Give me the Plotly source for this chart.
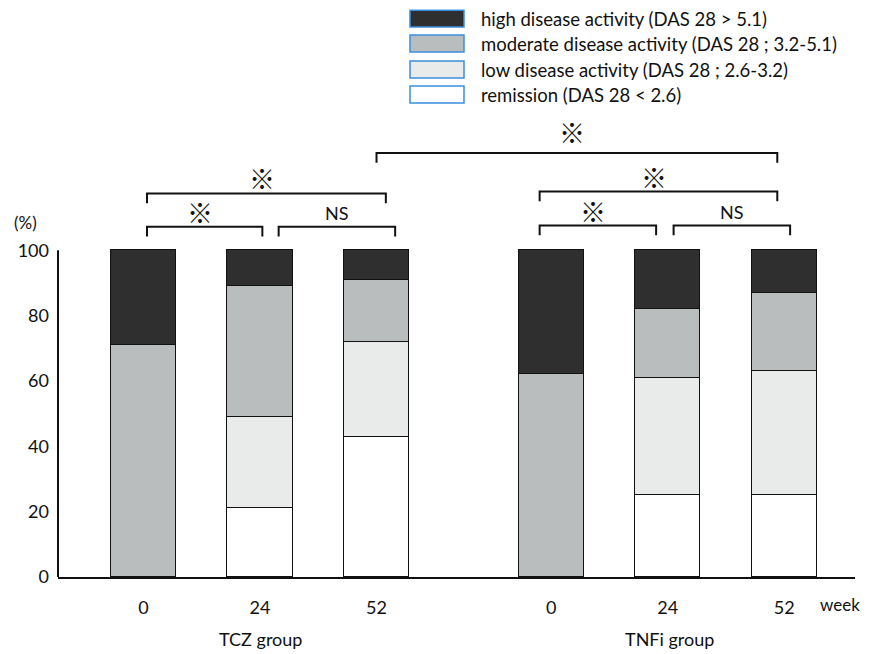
import plotly.graph_objects as go

# ---- data ----
groups = ["TCZ group", "TNFi group"]
weeks = ["0", "24", "52", "0", "24", "52"]
remission = [None, 21, 43, None, 25, 25]
low = [None, 28, 29, None, 36, 38]
moderate = [71, 40, 19, 62, 21, 24]
high = [29, 11, 9, 38, 18, 13]
series_names = [
    "remission (DAS 28 < 2.6)",
    "low disease activity (DAS 28 ; 2.6-3.2)",
    "moderate disease activity (DAS 28 ; 3.2-5.1)",
    "high disease activity (DAS 28 > 5.1)",
]
# significance brackets: (x start, x end, level, label, label lift in px)
brackets = [
    (0.03, 1.02, 107.2, "※", 0),
    (1.16, 2.16, 107.2, "NS", 0),
    (0.03, 2.08, 117.4, "※", 0),
    (2.00, 5.44, 129.8, "※", 6),
    (3.40, 4.40, 107.6, "※", 0),
    (4.55, 5.55, 107.6, "NS", 0),
    (3.40, 5.44, 118.0, "※", 0),
]

xpos = [0, 1, 2, 3.5, 4.5, 5.5]
colors = ["#ffffff", "#e9ebeb", "#b9bdbd", "#2f2f2f"]
values = [remission, low, moderate, high]

FONT = "Lato, 'Open Sans', sans-serif"

# plot area in page pixels (page has an 8px body margin)
PL, PR, PT, PB = 58, 855, 135.5, 577
PW, PH = PR - PL, PB - PT


def px(x):
    return (x - PL) / PW


def py(y):
    return (PB - y) / PH


fig = go.Figure()
for name, vals, col in zip(series_names, values, colors):
    fig.add_trace(go.Bar(
        x=xpos, y=vals, name=name, width=0.56,
        marker=dict(color=col, line=dict(color="#111111", width=1.5)),
        showlegend=False,
    ))

shapes = []
annotations = []
# y axis line from 0 to 100
shapes.append(dict(type="line", xref="paper", yref="y", x0=0, x1=0, y0=0, y1=100,
                   line=dict(color="#111111", width=2)))
# brackets
for x0, x1, lev, lab, lift in brackets:
    leg = lev - 3.0
    shapes.append(dict(type="path", xref="x", yref="y",
                       path=f"M {x0},{leg} L {x0},{lev} L {x1},{lev} L {x1},{leg}",
                       line=dict(color="#111111", width=2)))
    if lab == "※":
        annotations.append(dict(x=(x0 + x1) / 2 - 0.04, y=lev, xref="x", yref="y",
                                text="<b>※</b>", showarrow=False, yanchor="bottom",
                                xanchor="center", yshift=-5 + lift,
                                font=dict(family="Noto Sans CJK JP", size=26, color="#111111")))
    else:
        annotations.append(dict(x=(x0 + x1) / 2, y=lev, xref="x", yref="y", text=lab,
                                showarrow=False, yanchor="bottom", xanchor="center", yshift=1,
                                font=dict(family=FONT, size=18, color="#111111")))

# group labels
for g, xc in zip(groups, [260, 669]):
    annotations.append(dict(x=px(xc), y=py(639), xref="paper", yref="paper", text=g,
                            showarrow=False, xanchor="center", yanchor="middle",
                            font=dict(family=FONT, size=18, color="#111111")))
# week label
annotations.append(dict(x=px(862), y=py(605), xref="paper", yref="paper", text="week",
                        showarrow=False, xanchor="right", yanchor="middle",
                        font=dict(family=FONT, size=17, color="#111111")))
# (%) label
annotations.append(dict(x=px(25), y=py(222), xref="paper", yref="paper", text="(%)",
                        showarrow=False, xanchor="center", yanchor="middle",
                        font=dict(family=FONT, size=17, color="#111111")))

# manual legend (top right)
leg_rows = [(series_names[3], colors[3], 18), (series_names[2], colors[2], 43),
            (series_names[1], colors[1], 69), (series_names[0], colors[0], 94)]
for name, col, yc in leg_rows:
    shapes.append(dict(type="rect", xref="paper", yref="paper",
                       x0=px(410), x1=px(464), y0=py(yc + 8.5), y1=py(yc - 8.5),
                       fillcolor=col, line=dict(color="#3b8fe0", width=1.5)))
    annotations.append(dict(x=px(479), y=py(yc), xref="paper", yref="paper",
                            text=name, showarrow=False, xanchor="left", yanchor="middle",
                            font=dict(family=FONT, size=18.5, color="#111111")))

W, H = 856, 646
fig.update_layout(
    width=W, height=H,
    margin=dict(l=PL - 8, r=W - (PR - 8), t=PT - 8, b=H - (PB - 8)),
    paper_bgcolor="white", plot_bgcolor="white",
    barmode="stack", bargap=0,
    shapes=shapes, annotations=annotations,
    xaxis=dict(range=[-0.734, 6.107], tickvals=xpos, ticktext=weeks, showgrid=False,
               zeroline=False, showline=True, linecolor="#111111", linewidth=2,
               ticks="", ticklabelstandoff=13,
               tickfont=dict(family=FONT, size=18, color="#111111")),
    yaxis=dict(range=[0, 135], tickvals=[0, 20, 40, 60, 80, 100], showgrid=False,
               zeroline=False, showline=False, ticks="", ticklabelstandoff=8,
               tickfont=dict(family=FONT, size=18, color="#111111")),
)

fig.write_html("out.html")
